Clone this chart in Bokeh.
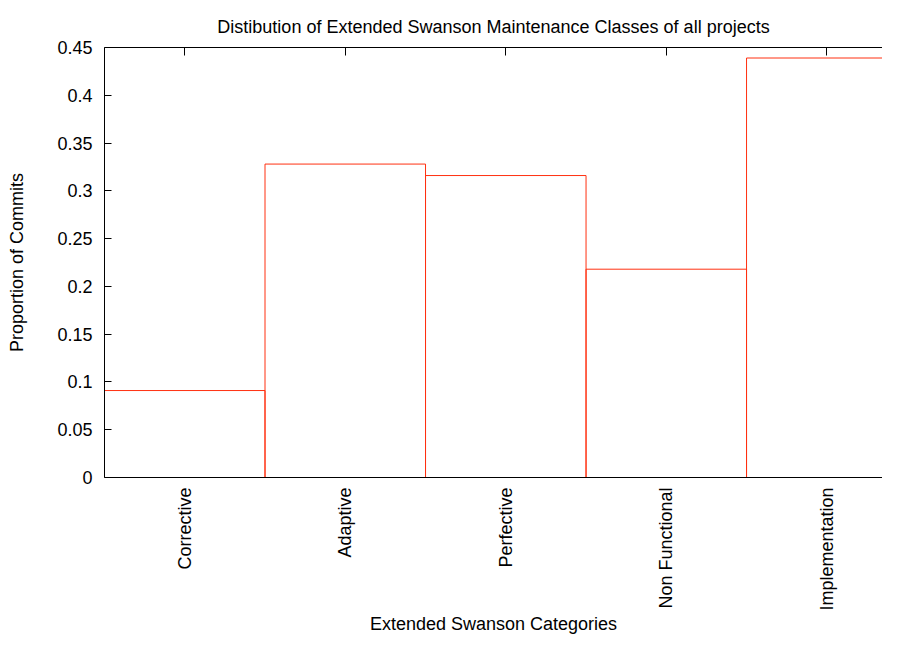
import math
from bokeh.plotting import figure
from bokeh.models import Range1d, FixedTicker, LinearAxis, ColumnDataSource
from bokeh.embed import file_html
from bokeh.resources import INLINE

categories = ["Corrective", "Adaptive", "Perfective", "Non Functional", "Implementation"]
proportions = [0.091, 0.328, 0.316, 0.218, 0.439]
y_ticks = [0, 0.05, 0.1, 0.15, 0.2, 0.25, 0.3, 0.35, 0.4, 0.45]
y_tick_labels = ["0", "0.05", "0.1", "0.15", "0.2", "0.25", "0.3", "0.35", "0.4", "0.45"]

FONT = "Liberation Sans"
RED = "#ff3010"

idx = list(range(len(categories)))
src = ColumnDataSource(dict(
    left=[i for i in idx],
    right=[i + 1 for i in idx],
    top=proportions,
    bottom=[0] * len(idx),
))
centers = [i + 0.5 for i in idx]

p = figure(width=882, height=636, output_backend="svg", toolbar_location=None,
           x_range=Range1d(0, 4.847), y_range=Range1d(0, 0.45),
           min_border_left=104, min_border_right=0, min_border_top=47, min_border_bottom=158,
           title="Distibution of Extended Swanson Maintenance Classes of all projects")
p.outline_line_color = None
p.grid.visible = False
p.background_fill_color = "white"
p.border_fill_color = "white"

p.title.text_font = FONT
p.title.text_font_size = "18px"
p.title.text_font_style = "normal"
p.title.align = "center"
p.title.text_color = "black"
p.title.standoff = 22
p.title.offset = 7

p.quad(left="left", right="right", top="top", bottom="bottom", source=src,
       fill_color=None, line_color=RED, line_width=1)

# left axis
ya = p.yaxis[0]
ya.ticker = FixedTicker(ticks=y_ticks)
ya.major_label_overrides = {t: l for t, l in zip(y_ticks, y_tick_labels)}
ya.major_tick_in = 7
ya.major_tick_out = 0
ya.minor_tick_in = 0
ya.minor_tick_out = 0
ya.major_label_standoff = 12
ya.major_label_text_font = FONT
ya.major_label_text_font_size = "18px"
ya.major_label_text_color = "black"
ya.axis_label = "Proportion of Commits"
ya.axis_label_text_font = FONT
ya.axis_label_text_font_size = "18px"
ya.axis_label_text_font_style = "normal"
ya.axis_label_text_color = "black"
ya.axis_label_standoff = 27
ya.axis_line_color = "black"

# bottom axis
xa = p.xaxis[0]
xa.ticker = FixedTicker(ticks=centers)
xa.major_label_overrides = {c: n for c, n in zip(centers, categories)}
xa.major_label_orientation = math.pi / 2
xa.major_tick_in = 0
xa.major_tick_out = 0
xa.minor_tick_in = 0
xa.minor_tick_out = 0
xa.major_label_standoff = 10
xa.major_label_text_font = FONT
xa.major_label_text_font_size = "18px"
xa.major_label_text_color = "black"
xa.axis_label = "Extended Swanson Categories"
xa.axis_label_text_font = FONT
xa.axis_label_text_font_size = "18px"
xa.axis_label_text_font_style = "normal"
xa.axis_label_text_color = "black"
xa.axis_label_standoff = 0
xa.axis_line_color = "black"

# top mirrored ticks (no labels)
top = LinearAxis(ticker=FixedTicker(ticks=centers))
top.major_label_overrides = {c: "" for c in centers}
top.major_tick_in = 8
top.major_tick_out = 0
top.minor_tick_in = 0
top.minor_tick_out = 0
top.major_label_standoff = 0
top.axis_line_color = "black"
p.add_layout(top, "above")

open("out.html", "w").write(file_html(p, INLINE))
